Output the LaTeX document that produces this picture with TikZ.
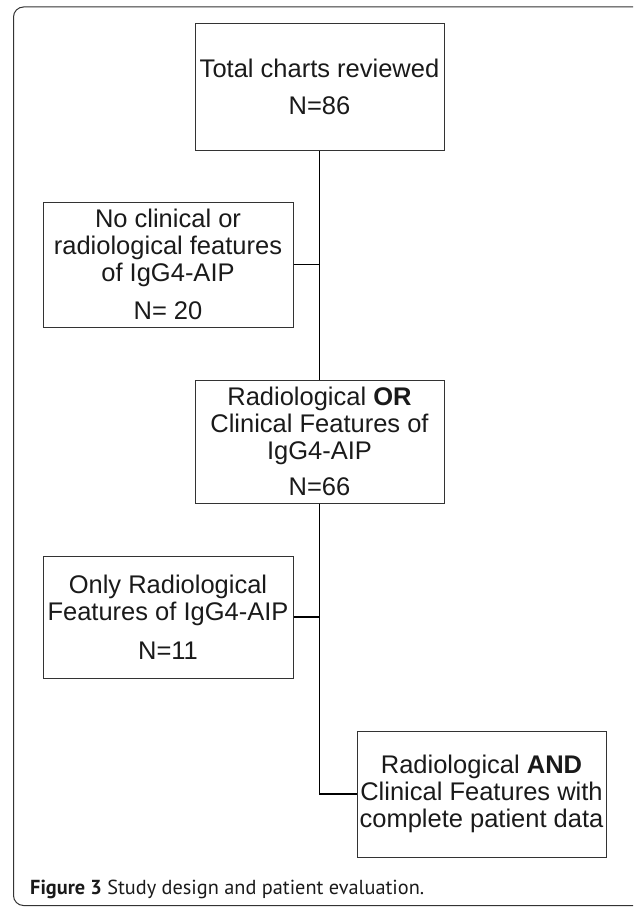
\documentclass[tikz,border=0pt]{standalone}
\usepackage{fontspec}
\setmainfont{Liberation Sans}
\newfontfamily\capfont{PT Sans}
\definecolor{boxline}{HTML}{333333}
\definecolor{textc}{HTML}{1A1A1A}
\begin{document}
\begin{tikzpicture}[x=1pt,y=-1pt,
  flowbox/.style={draw=boxline, line width=1pt, rectangle, align=center,
    inner sep=0pt, text=textc,
    font=\fontsize{25.5}{27}\selectfont},
  link/.style={draw=black, line width=1.2pt}]
\useasboundingbox (0,0) rectangle (633,907);
\clip (0,0) rectangle (633,907);
\draw[boxline, line width=1pt, rounded corners=10pt] (13.5,7) rectangle (660,905.5);

\node[flowbox, minimum width=249pt, minimum height=126pt] (total) at (319.5,87)
  {Total charts reviewed\\[10pt]N=86};
\node[flowbox, minimum width=250pt, minimum height=125pt] (none) at (168,264.5)
  {No clinical or\\radiological features\\of IgG4-AIP\\[11pt]N= 20};
\node[flowbox, minimum width=249pt, minimum height=123pt] (either) at (319.5,441.5)
  {Radiological \textbf{OR}\\Clinical Features of\\IgG4-AIP\\[9pt]N=66};
\node[flowbox, minimum width=250pt, minimum height=122pt] (onlyrad) at (168,617)
  {Only Radiological\\Features of IgG4-AIP\\[12pt]N=11};
\node[flowbox, minimum width=249pt, minimum height=126pt] (both) at (481.5,794)
  {Radiological \textbf{AND}\\Clinical Features with\\complete patient data};

\draw[link] (total.south) -- (either.north);
\draw[link] (none.east) -- (none.east -| total.south);
\draw[link] (either.south) |- (both.west);
\draw[link] (onlyrad.east) -- (onlyrad.east -| either.south);

\node[anchor=west, inner sep=0pt, font=\capfont\fontsize{20.3}{22}\selectfont, text=textc] (caption) at (30,889)
  {\textbf{Figure 3} Study design and patient evaluation.};
\end{tikzpicture}
\end{document}
